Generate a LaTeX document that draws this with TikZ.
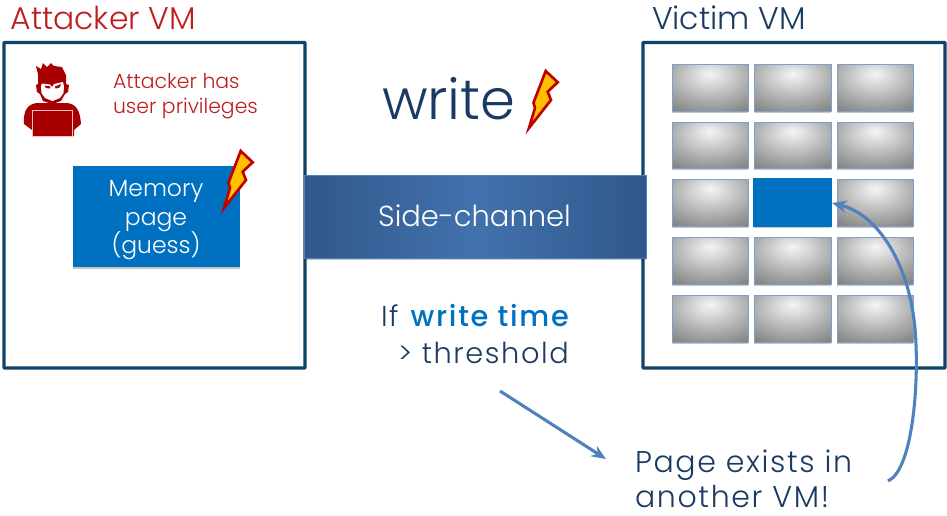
\documentclass[tikz,border=0pt]{standalone}
\usepackage{fontspec}
\setmainfont{Poppins Light}
\newfontfamily\widef[LetterSpace=5.5]{Poppins Light}
\newfontfamily\wideb[LetterSpace=6]{Poppins Medium}
\usetikzlibrary{arrows.meta,shadows}
\definecolor{frameblue}{HTML}{0F4468}
\definecolor{navy}{HTML}{1B3A63}
\definecolor{redt}{HTML}{BE1E1E}
\definecolor{darkred}{HTML}{A80000}
\definecolor{boltred}{HTML}{C00000}
\definecolor{boltyellow}{HTML}{FFC000}
\definecolor{pageblue}{HTML}{0070C0}
\definecolor{arrowblue}{HTML}{4F81BD}
\definecolor{cellline}{HTML}{7FA0CC}
\definecolor{barout}{HTML}{30578A}
\definecolor{barin}{HTML}{4272AE}
\pgfdeclareradialshading{cellshade}{\pgfpoint{0bp}{15bp}}{%
  color(0bp)=(white!96!black); color(10bp)=(white!85!black); color(25bp)=(white!68!black); color(40bp)=(white!52!black); color(100bp)=(white!46!black)}
\tikzset{
  x=0.75pt,y=-0.75pt,
  vmframe/.style={draw=frameblue,line width=2.6pt,fill=white,rounded corners=0.6pt},
  softshadow/.style={drop shadow={shadow xshift=0pt,shadow yshift=-1.4pt,opacity=0.22,fill=black}},
  cell/.style={draw=cellline,line width=0.6pt,shading=cellshade,softshadow},
  bluepage/.style={fill=pageblue,softshadow},
  sidebar/.style={left color=barout,right color=barout,middle color=barin,softshadow},
  boltstyle/.style={draw=boltred,line width=2pt,fill=boltyellow,line join=miter},
  lab/.style={anchor=base west,inner sep=0pt,outer sep=0pt},
  flow/.style={draw=arrowblue,line width=2.3pt,-{Stealth[length=11pt,width=9pt]}},
}
\newcommand{\boltpath}{(240.7,151) -- (252.7,162.3) -- (242.7,171.7) -- (246,180) -- (224,208) -- (230,188) -- (228.5,182.7) -- cycle}
\begin{document}
\begin{tikzpicture}
\useasboundingbox (0,0) rectangle (947,515);
% frames
\path[vmframe] (4,42.5) rectangle (305,368);
\path[vmframe] (643,42.5) rectangle (945,368);
% titles
\node[lab,text=redt,font=\fontsize{23.6pt}{25pt}\selectfont] (atk) at (10.5,29) {Attacker VM};
\node[lab,text=navy,font=\fontsize{23.6pt}{25pt}\selectfont] (vic) at (652,29) {Victim VM};
% attacker icon
\fill[darkred] (38,74) -- (36,66) -- (41,69) -- (43,63) -- (47,67) -- (51,63) -- (54,66) -- (62,67) -- (66,75) -- (66,84) -- (69,85) -- (68,92) -- (65,94) -- (61,101) -- (52,104) -- (43,101) -- (40,94) -- (37,92) -- (36,85) -- (38,84) -- cycle;
\fill[white] (42,83.5) -- (50,84.5) -- (52,87) -- (54,84) -- (63,82) -- (64,86) -- (63.5,93) -- (60,98) -- (52.5,101) -- (45,98) -- (41.5,93) -- (41,86) -- cycle;
\fill[darkred] (44.5,85.5) -- (50.5,86.5) -- (50,88.5) -- (46,88) -- cycle;
\fill[darkred] (61,84) -- (55,86.5) -- (55.5,88.5) -- (59.5,87.5) -- cycle;
\fill[darkred] (37,103) -- (67,103) .. controls (76,104) and (80,110) .. (81,124) -- (74,130) -- (74,136) -- (32,136) -- (32,130) -- (24,124) .. controls (23,110) and (28,104) .. (37,103) -- cycle;
\draw[white!75!red,line width=0.6pt,fill=darkred] (32,110) -- (72,110) -- (72,136.5) -- (32,136.5) -- cycle;
\node[lab,text=redt,font=\fontsize{15.3pt}{17pt}\selectfont] (priv1) at (113,88.5) {Attacker has};
\node[lab,text=redt,font=\fontsize{15.3pt}{17pt}\selectfont] (priv2) at (113,113) {user privileges};
% memory page
\path[bluepage] (73,166) rectangle (239.5,267);
\node[anchor=base,inner sep=0pt,text=white,font=\fontsize{17.6pt}{19pt}\selectfont] (m1) at (156,196.5) {Memory};
\node[anchor=base,inner sep=0pt,text=white,font=\fontsize{17.6pt}{19pt}\selectfont] (m2) at (156,225) {page};
\node[anchor=base,inner sep=0pt,text=white,font=\fontsize{17.6pt}{19pt}\selectfont] (m3) at (156,253) {(guess)};
\path[boltstyle] \boltpath;
% write
\node[lab,text=navy,font=\fontsize{42pt}{44pt}\selectfont] (wr) at (382,119) {write};
\begin{scope}[shift={(305,-80)}]
\path[boltstyle] \boltpath;
\end{scope}
% side channel bar
\path[sidebar] (304,175) rectangle (646,258);
\draw[arrowblue,line width=0.6pt] (304,175) rectangle (646,258);
\node[anchor=base,inner sep=0pt,text=white,font=\fontsize{21.7pt}{23pt}\selectfont] (sc) at (474.5,226) {Side-channel};
% cells
\foreach \xa/\xb/\c in {672/748/a,754/831/b,837/913/c}{
  \foreach \ya/\yb/\r in {64/111/1,122/168/2,179/226/3,237/284/4,295/342/5}{
    \path[cell] (\xa,\ya) rectangle (\xb,\yb);
  }
}
\path[draw=pageblue,line width=0.9pt,fill=pageblue] (754,179) rectangle (831,226);
\coordinate (target) at (832,203);
% condition text
\node[lab,text=navy,font=\fontsize{21.6pt}{23pt}\widef] (if) at (381,326) {If\hspace{2pt} {\wideb\color{pageblue}write time}};
\node[anchor=base east,inner sep=0pt,text=navy,font=\fontsize{21.6pt}{23pt}\widef] (thr) at (569,363) {> threshold};
% result text
\node[lab,text=navy,font=\fontsize{22.5pt}{24pt}\widef] (p1) at (635,472) {Page exists in};
\node[lab,text=navy,font=\fontsize{22.5pt}{24pt}\widef] (p2) at (635,507.5) {another VM!};
% arrows
\coordinate (a1) at (500,391);
\coordinate (a2) at (606,459);
\coordinate (c1) at (888,481);
\draw[flow] (a1) -- (a2);
\draw[flow] (c1) .. controls (912,470) and (918,390) .. (916,345) .. controls (914,270) and (880,215) .. (target);
\end{tikzpicture}
\end{document}
